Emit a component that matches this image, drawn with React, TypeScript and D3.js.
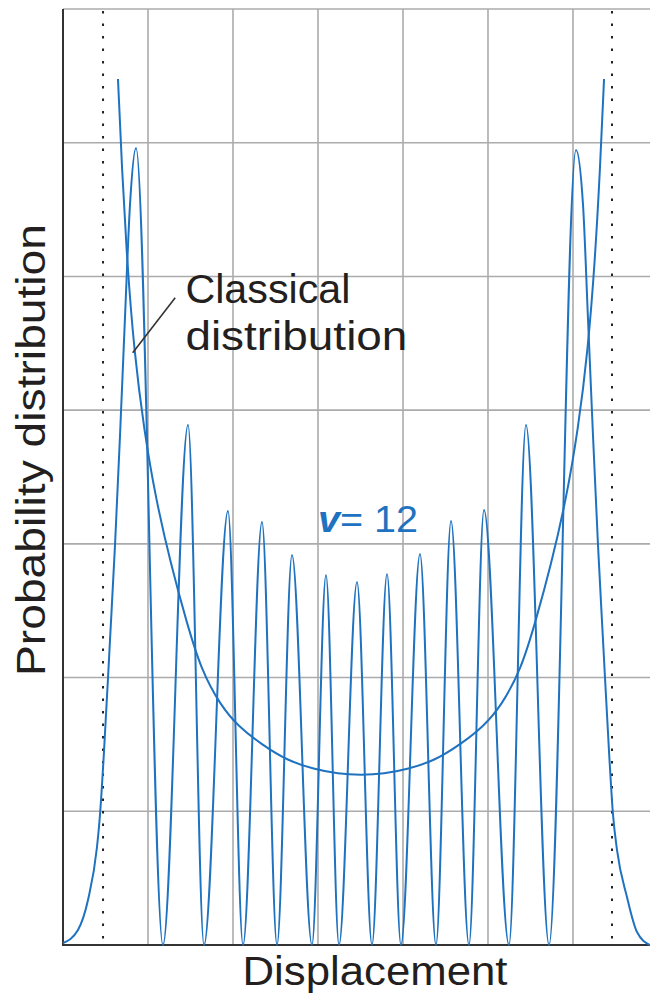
import React from "react";
import * as d3 from "d3";

// Grid units: x 0..7 (displacement), y 0..7 (probability)
const xGrid = [1, 2, 3, 4, 5, 6];
const yGrid = [1, 2, 3, 4, 5, 6, 7];
const turningPoints = [0.471, 6.459];

// Quantum probability distribution, v = 12
const quantumX = [
  0.0, 0.176, 0.294, 0.4, 0.435, 0.482, 0.553, 0.612, 0.671, 0.729, 0.788, 0.859,
  1.176, 1.471, 1.659, 1.941, 2.118, 2.341, 2.518, 2.694, 2.929, 3.094,
  3.247, 3.459, 3.635, 3.812, 3.976, 4.2, 4.388, 4.565, 4.776, 4.953,
  5.247, 5.447, 5.718,
  6.035, 6.118, 6.176, 6.235, 6.294, 6.353, 6.424, 6.471, 6.518, 6.635, 6.753, 6.906,
];
const quantumY = [
  0.015, 0.112, 0.336, 0.733, 0.972, 1.443, 2.281, 2.992, 3.814, 4.689, 5.534, 5.961,
  0, 3.889, 0, 3.246, 0, 3.164, 0, 2.917, 0, 2.767,
  0, 2.715, 0, 2.775, 0, 2.924, 0, 3.171, 0, 3.253,
  0, 3.889, 0,
  5.946, 5.534, 4.689, 3.814, 2.992, 2.281, 1.443, 0.972, 0.71, 0.359, 0.097, 0,
];

// Classical distribution
const classicalX = [
  0.647, 0.694, 0.753, 0.835, 0.953, 1.094, 1.271, 1.447, 1.624, 1.859,
  2.059, 2.329, 2.647, 2.953, 3.235, 3.506, 3.776, 4.059, 4.365, 4.682,
  4.953, 5.153, 5.388, 5.565, 5.741, 5.918, 6.059, 6.176, 6.259, 6.318, 6.365,
];
const classicalY = [
  6.477, 5.796, 5.123, 4.45, 3.852, 3.328, 2.842, 2.431, 2.057, 1.787,
  1.638, 1.503, 1.376, 1.316, 1.279, 1.271, 1.279, 1.316, 1.376, 1.503,
  1.638, 1.787, 2.057, 2.431, 2.842, 3.328, 3.852, 4.45, 5.123, 5.796, 6.477,
];

const xLabel = "Displacement";
const yLabel = "Probability distribution";
const classicalLabel = ["Classical", "distribution"];
const quantumLabel = ["v", "= 12"];

const W = 650;
const H = 994;
const BLUE = "#1f72bf";
const TEXT = "#231f20";
const FONT = "'Liberation Sans', Arial, Helvetica, sans-serif";

export default function App() {
  const x = d3.scaleLinear().domain([0, 7]).range([63, 658]);
  const y = d3.scaleLinear().domain([0, 7]).range([945, 9]);

  const qData = quantumX.map((v, i) => [v, quantumY[i]] as [number, number]);
  const cData = classicalX.map((v, i) => [v, classicalY[i]] as [number, number]);

  const qLine = d3
    .line<[number, number]>()
    .x((d) => x(d[0]))
    .y((d) => y(d[1]))
    .curve(d3.curveMonotoneX);

  const cLine = d3
    .line<[number, number]>()
    .x((d) => x(d[0]))
    .y((d) => y(d[1]))
    .curve(d3.curveBasis);

  return (
    <svg
      width={W}
      height={H}
      style={{ position: "absolute", left: 0, top: 0, background: "#fff" }}
      fontFamily={FONT}
    >
      <rect x={0} y={0} width={W} height={H} fill="#fff" />
      {/* grid */}
      {xGrid.map((g) => (
        <line key={"gx" + g} x1={x(g)} x2={x(g)} y1={y(7)} y2={y(0)} stroke="#ababab" strokeWidth={1.6} />
      ))}
      {yGrid.map((g) => (
        <line key={"gy" + g} x1={x(0)} x2={W} y1={y(g)} y2={y(g)} stroke="#ababab" strokeWidth={1.6} />
      ))}
      {/* classical turning points */}
      {turningPoints.map((t) => (
        <line
          key={"tp" + t}
          x1={x(t)}
          x2={x(t)}
          y1={y(7) + 2}
          y2={y(0)}
          stroke="#222"
          strokeWidth={2}
          strokeDasharray="2.5 10"
        />
      ))}
      {/* axes */}
      <line x1={x(0)} x2={x(0)} y1={y(7)} y2={y(0) + 1} stroke="#333" strokeWidth={2} />
      <line x1={x(0)} x2={W} y1={y(0)} y2={y(0)} stroke="#333" strokeWidth={2} />

      {/* curves */}
      <path d={cLine(cData) || ""} fill="none" stroke={BLUE} strokeWidth={2} />
      <path d={qLine(qData) || ""} fill="none" stroke={BLUE} strokeWidth={2} />

      {/* leader line */}
      <line x1={x(1.32)} x2={x(0.82)} y1={y(4.84)} y2={y(4.43)} stroke="#333" strokeWidth={1.6} />

      {/* labels */}
      <text x={x(1.44)} y={y(4.8)} fontSize={40} fill={TEXT} textLength={165} lengthAdjust="spacingAndGlyphs">
        {classicalLabel[0]}
      </text>
      <text x={x(1.44)} y={y(4.45)} fontSize={40} fill={TEXT} textLength={222} lengthAdjust="spacingAndGlyphs">
        {classicalLabel[1]}
      </text>

      <text x={x(3.0)} y={y(3.09)} fontSize={37} fill={BLUE} textLength={100} lengthAdjust="spacingAndGlyphs">
        <tspan fontStyle="italic" fontWeight="bold">{quantumLabel[0]}</tspan>
        <tspan>{quantumLabel[1]}</tspan>
      </text>

      <text
        x={375}
        y={985}
        fontSize={40}
        fill={TEXT}
        textAnchor="middle"
        textLength={265}
        lengthAdjust="spacingAndGlyphs"
      >
        {xLabel}
      </text>
      <text
        transform="translate(45,450) rotate(-90)"
        fontSize={40}
        fill={TEXT}
        textAnchor="middle"
        textLength={452}
        lengthAdjust="spacingAndGlyphs"
      >
        {yLabel}
      </text>
    </svg>
  );
}
